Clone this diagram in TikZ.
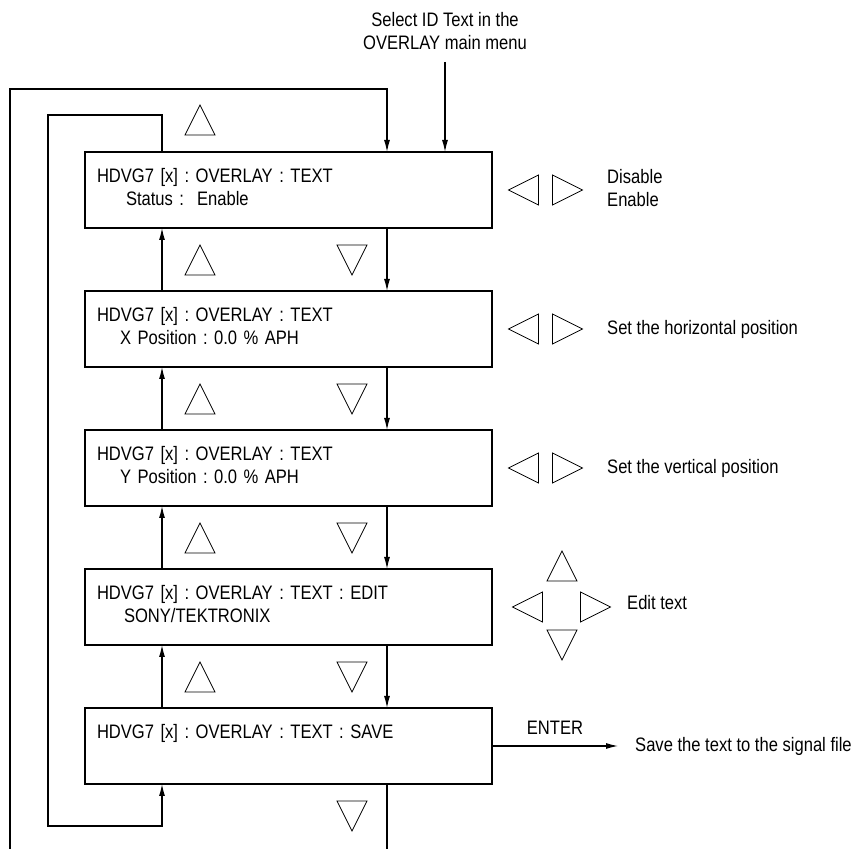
\documentclass[tikz,border=0pt]{standalone}
\usepackage{fontspec}
\setmainfont{Liberation Sans}[FakeStretch=0.85]
\frenchspacing
\usetikzlibrary{positioning, arrows.meta}

\tikzset{
  menubox/.style={draw, line width=2.4pt, outer sep=0pt, inner xsep=12pt, inner ysep=0pt,
    text width=383pt, align=left, text height=31pt, text depth=45pt},
  conn/.style={line width=1.1pt, -{Latex[length=12pt,width=6pt]}},
  tri/.style={line width=0.8pt},
  uptri/.pic={\draw[tri] (-15pt,-15pt) -- (0pt,15pt) -- (15pt,-15pt) -- cycle;},
  dntri/.pic={\draw[tri] (-15pt,15pt) -- (0pt,-15pt) -- (15pt,15pt) -- cycle;},
  lftri/.pic={\draw[tri] (15pt,15pt) -- (-15pt,0pt) -- (15pt,-15pt) -- cycle;},
  rttri/.pic={\draw[tri] (-15pt,15pt) -- (15pt,0pt) -- (-15pt,-15pt) -- cycle;}
}

\begin{document}
\begin{tikzpicture}[x=1pt, y=1pt, node distance=63pt,
    every node/.style={font=\fontsize{19.5}{22.5}\selectfont}]
  \useasboundingbox (0,0) rectangle (856,848);

  % menu screens
  \node (s1) [menubox] at (288.5,658) {HDVG7 [x] : OVERLAY : TEXT\\\hspace*{29pt}Status :\ \ Enable};
  \node (s2) [menubox, below=of s1] {HDVG7 [x] : OVERLAY : TEXT\\\hspace*{23pt}X Position : 0.0 \% APH};
  \node (s3) [menubox, below=of s2] {HDVG7 [x] : OVERLAY : TEXT\\\hspace*{23pt}Y Position : 0.0 \% APH};
  \node (s4) [menubox, below=of s3] {HDVG7 [x] : OVERLAY : TEXT : EDIT\\\hspace*{27pt}SONY/TEKTRONIX};
  \node (s5) [menubox, below=of s4] {HDVG7 [x] : OVERLAY : TEXT : SAVE};

  % entry
  \node (sel) [align=center] at (445,817) {Select ID Text in the\\OVERLAY main menu};
  \draw [conn] ([yshift=-9pt]sel.south) -- (sel.south |- s1.north);

  % down / up between screens
  \draw [conn] ([xshift=98.5pt]s1.south) -- ([xshift=98.5pt]s2.north);
  \draw [conn] ([xshift=98.5pt]s2.south) -- ([xshift=98.5pt]s3.north);
  \draw [conn] ([xshift=98.5pt]s3.south) -- ([xshift=98.5pt]s4.north);
  \draw [conn] ([xshift=98.5pt]s4.south) -- ([xshift=98.5pt]s5.north);
  \draw [conn] ([xshift=-126.5pt]s2.north) -- ([xshift=-126.5pt]s1.south);
  \draw [conn] ([xshift=-126.5pt]s3.north) -- ([xshift=-126.5pt]s2.south);
  \draw [conn] ([xshift=-126.5pt]s4.north) -- ([xshift=-126.5pt]s3.south);
  \draw [conn] ([xshift=-126.5pt]s5.north) -- ([xshift=-126.5pt]s4.south);

  % wrap-around loops
  \draw [conn] ([xshift=98.5pt]s5.south) -- ++(0,-70) -| (10,759) -| ([xshift=98.5pt]s1.north);
  \draw [conn] ([xshift=-126.5pt]s1.north) |- (48,733) -- (48,22) -| ([xshift=-126.5pt]s5.south);

  % key symbols
  \pic at ([xshift=-88.5pt,yshift=32pt]s1.north) {uptri};
  \pic at ([xshift=-88.5pt,yshift=-32pt]s1.south) {uptri};
  \pic at ([xshift=63.5pt,yshift=-32pt]s1.south) {dntri};
  \pic at ([xshift=-88.5pt,yshift=-32pt]s2.south) {uptri};
  \pic at ([xshift=63.5pt,yshift=-32pt]s2.south) {dntri};
  \pic at ([xshift=-88.5pt,yshift=-32pt]s3.south) {uptri};
  \pic at ([xshift=63.5pt,yshift=-32pt]s3.south) {dntri};
  \pic at ([xshift=-88.5pt,yshift=-32pt]s4.south) {uptri};
  \pic at ([xshift=63.5pt,yshift=-32pt]s4.south) {dntri};
  \pic at ([xshift=63.5pt,yshift=-32pt]s5.south) {dntri};

  \pic at ([xshift=31.5pt]s1.east) {lftri};
  \pic at ([xshift=75.5pt]s1.east) {rttri};
  \pic at ([xshift=31.5pt]s2.east) {lftri};
  \pic at ([xshift=75.5pt]s2.east) {rttri};
  \pic at ([xshift=31.5pt]s3.east) {lftri};
  \pic at ([xshift=75.5pt]s3.east) {rttri};
  \pic at ([xshift=35.5pt]s4.east) {lftri};
  \pic at ([xshift=103.5pt]s4.east) {rttri};
  \pic at ([xshift=70pt,yshift=41pt]s4.east) {uptri};
  \pic at ([xshift=70pt,yshift=-38pt]s4.east) {dntri};

  % settings
  \node (en) [anchor=west, align=left, inner sep=0pt] at ([xshift=115pt,yshift=2pt]s1.east) {Disable\\Enable};
  \node (hp) [anchor=west, inner sep=0pt] at ([xshift=115pt]s2.east) {Set the horizontal position};
  \node (vp) [anchor=west, inner sep=0pt] at ([xshift=115pt]s3.east) {Set the vertical position};
  \node (ed) [anchor=west, inner sep=0pt] at ([xshift=135pt,yshift=4pt]s4.east) {Edit text};
  \node (save) [right=143pt of s5, inner sep=0pt] {Save the text to the signal file};
  \draw [conn] (s5) -- node [above=8pt] {ENTER} ([xshift=-17pt]save.west);
\end{tikzpicture}
\end{document}
